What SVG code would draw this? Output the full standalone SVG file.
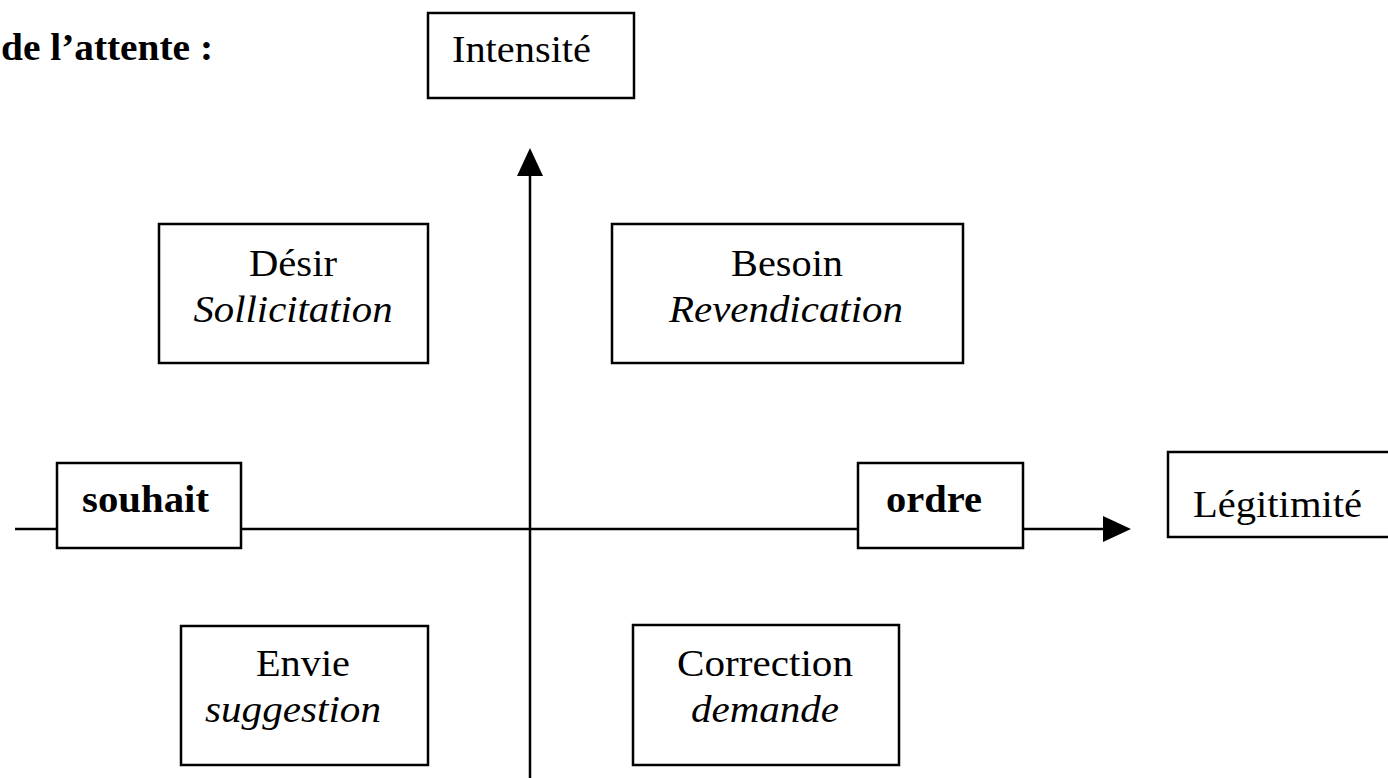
<svg xmlns="http://www.w3.org/2000/svg" width="1388" height="778" viewBox="0 0 1388 778">
<defs>
<style>
.box{fill:#fff;stroke:#000;stroke-width:2.5}
.t{font-family:"Liberation Serif","Times New Roman",serif;font-size:38px;fill:#000}
.b{font-weight:bold}
.i{font-style:italic}
.c{text-anchor:middle}
.ax{stroke:#000;stroke-width:2.5;fill:none}
</style>
</defs>
<rect width="1388" height="778" fill="#fff"/>
<text class="t b" x="1" y="60" textLength="212" lengthAdjust="spacingAndGlyphs">de l’attente :</text>
<g id="connectors">
<line class="ax" x1="530" y1="778" x2="530" y2="175"/>
<path d="M530,148 L543,176 L517,176 Z" fill="#000"/>
<line class="ax" x1="15" y1="529" x2="1104" y2="529"/>
<path d="M1131,529 L1103,516 L1103,542 Z" fill="#000"/>
</g>
<g id="intensite">
<rect class="box" x="428" y="13" width="206" height="85"/>
<text class="t" x="452" y="62" textLength="139" lengthAdjust="spacingAndGlyphs">Intensité</text>
</g>
<g id="desir">
<rect class="box" x="159" y="224" width="269" height="139"/>
<text class="t c" x="293" y="276" textLength="88" lengthAdjust="spacingAndGlyphs">Désir</text>
<text class="t c i" x="293" y="322" textLength="199" lengthAdjust="spacingAndGlyphs">Sollicitation</text>
</g>
<g id="besoin">
<rect class="box" x="612" y="224" width="351" height="139"/>
<text class="t c" x="787" y="276" textLength="112" lengthAdjust="spacingAndGlyphs">Besoin</text>
<text class="t c i" x="786" y="322" textLength="234" lengthAdjust="spacingAndGlyphs">Revendication</text>
</g>
<g id="souhait">
<rect class="box" x="57" y="463" width="184" height="85"/>
<text class="t b" x="82" y="512" textLength="127" lengthAdjust="spacingAndGlyphs">souhait</text>
</g>
<g id="ordre">
<rect class="box" x="858" y="463" width="165" height="85"/>
<text class="t b" x="886" y="512" textLength="96" lengthAdjust="spacingAndGlyphs">ordre</text>
</g>
<g id="legitimite">
<rect class="box" x="1168" y="452" width="240" height="85"/>
<text class="t" x="1193" y="517" textLength="169" lengthAdjust="spacingAndGlyphs">Légitimité</text>
</g>
<g id="envie">
<rect class="box" x="181" y="626" width="247" height="139"/>
<text class="t c" x="303" y="676" textLength="94" lengthAdjust="spacingAndGlyphs">Envie</text>
<text class="t c i" x="293" y="722" textLength="176" lengthAdjust="spacingAndGlyphs">suggestion</text>
</g>
<g id="correction">
<rect class="box" x="633" y="625" width="266" height="140"/>
<text class="t c" x="765" y="676" textLength="176" lengthAdjust="spacingAndGlyphs">Correction</text>
<text class="t c i" x="765" y="722" textLength="148" lengthAdjust="spacingAndGlyphs">demande</text>
</g>
</svg>
